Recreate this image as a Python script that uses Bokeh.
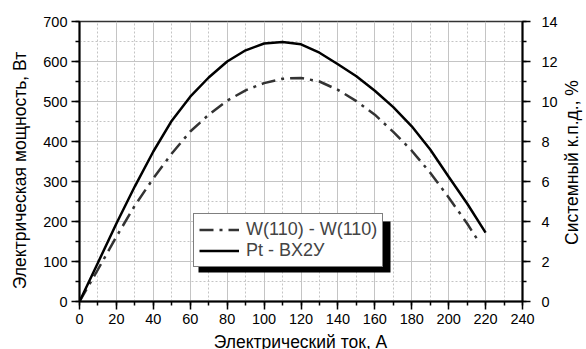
import math
from bokeh.plotting import figure
from bokeh.models import Range1d, LinearAxis, Legend, LegendItem, FixedTicker, BoxAnnotation, Label
from bokeh.embed import file_html
from bokeh.resources import INLINE

# ---- data ----
pt_current = [0, 10, 20, 30, 40, 50, 60, 70, 80, 90, 100, 110, 120, 130, 140, 150, 160, 170, 180, 190, 200, 210, 220]
pt_power = [0, 97, 195, 288, 375, 452, 512, 560, 600, 628, 645, 649, 643, 622, 593, 563, 527, 486, 438, 380, 312, 245, 172]

w_current = [0, 10, 20, 30, 40, 50, 60, 70, 80, 90, 100, 110, 120, 130, 140, 150, 160, 170, 180, 190, 200, 210, 216]
w_power = [0, 80, 162, 240, 308, 370, 425, 467, 502, 528, 546, 557, 559, 550, 529, 501, 467, 424, 377, 322, 260, 195, 152]

x_ticks = list(range(0, 241, 20))
x_minor = list(range(0, 241, 10))
y_ticks = list(range(0, 701, 100))
y_minor = list(range(0, 701, 50))
eff_ticks = list(range(0, 15, 2))
eff_minor = list(range(0, 15, 1))

series_labels = ["W(110) - W(110)", "Pt - BX2У"]
x_label = "Электрический ток, А"
y_label = "Электрическая мощность, Вт"
y2_label = "Системный к.п.д., %"

FONT = "Liberation Sans"
LABEL_SIZE = "17.5px"

p = figure(width=586, height=349, output_backend="svg", toolbar_location=None,
           x_range=Range1d(0, 240), y_range=Range1d(0, 700),
           min_border_left=79, min_border_right=64, min_border_top=21, min_border_bottom=48)
p.title.visible = False
p.background_fill_color = "white"
p.border_fill_color = "white"
p.outline_line_color = "#333333"
p.outline_line_width = 1.5

p.extra_y_ranges = {"eff": Range1d(0, 14)}
right_axis = LinearAxis(y_range_name="eff")
p.add_layout(right_axis, "right")

xt = FixedTicker(ticks=x_ticks, minor_ticks=x_minor)
yt = FixedTicker(ticks=y_ticks, minor_ticks=y_minor)
p.xaxis.ticker = xt
p.yaxis[0].ticker = yt
p.xgrid[0].ticker = xt
p.ygrid[0].ticker = yt
right_axis.ticker = FixedTicker(ticks=eff_ticks, minor_ticks=eff_minor)

for ax in [p.xaxis[0], p.yaxis[0], right_axis]:
    ax.axis_line_color = "black"
    ax.axis_line_width = 2
    ax.major_tick_line_color = "black"
    ax.major_tick_line_width = 1.5
    ax.minor_tick_line_color = "black"
    ax.minor_tick_line_width = 1.5
    ax.major_tick_in = 0
    ax.major_tick_out = 8
    ax.minor_tick_in = 0
    ax.minor_tick_out = 4
    ax.major_label_text_font = FONT
    ax.major_label_text_font_size = "14.5px"
    ax.major_label_text_color = "black"

p.xaxis.major_label_standoff = 4
p.yaxis[0].major_label_standoff = 4
right_axis.major_label_standoff = 11

for g in [p.xgrid[0], p.ygrid[0]]:
    g.grid_line_color = "#c4c4c4"
    g.grid_line_width = 1
    g.grid_line_alpha = 1.0
    g.minor_grid_line_color = "#c4c4c4"
    g.minor_grid_line_width = 1
    g.minor_grid_line_alpha = 1.0
    g.minor_grid_line_dash = "2 2"

r_w = p.line(w_current, w_power, line_color="#333333", line_width=2.5, line_dash="14 6 3 6")
r_pt = p.line(pt_current, pt_power, line_color="black", line_width=2.5)

# axis titles as labels in the side panels
p.add_layout(Label(text=x_label, x=221, y=5, x_units="screen", y_units="screen",
                   text_align="center", text_baseline="alphabetic",
                   text_font=FONT, text_font_size=LABEL_SIZE, text_color="black"), "below")
p.add_layout(Label(text=y_label, x=-1, y=131, x_units="screen", y_units="screen",
                   angle=math.pi / 2, text_align="center", text_baseline="alphabetic",
                   text_font=FONT, text_font_size=LABEL_SIZE, text_color="black"), "left")
p.add_layout(Label(text=y2_label, x=11, y=139, x_units="screen", y_units="screen",
                   angle=math.pi / 2, text_align="center", text_baseline="alphabetic",
                   text_font=FONT, text_font_size=LABEL_SIZE, text_color="black"), "right")

shadow = BoxAnnotation(left=119, right=311, bottom=29, top=80,
                       left_units="screen", right_units="screen",
                       bottom_units="screen", top_units="screen",
                       fill_color="black", fill_alpha=1.0, line_color=None)
p.add_layout(shadow)

legend = Legend(items=[LegendItem(label=series_labels[0], renderers=[r_w]),
                       LegendItem(label=series_labels[1], renderers=[r_pt])],
                location=(114, 34))
legend.label_text_font = FONT
legend.label_text_font_size = "18px"
legend.label_height = 21
legend.glyph_height = 21
legend.glyph_width = 40
legend.label_standoff = 7
legend.padding = 5
legend.spacing = 0
legend.margin = 0
legend.border_line_color = "black"
legend.border_line_width = 1
legend.background_fill_color = "white"
legend.background_fill_alpha = 1.0
p.add_layout(legend, "center")

open("out.html", "w").write(file_html(p, INLINE))
